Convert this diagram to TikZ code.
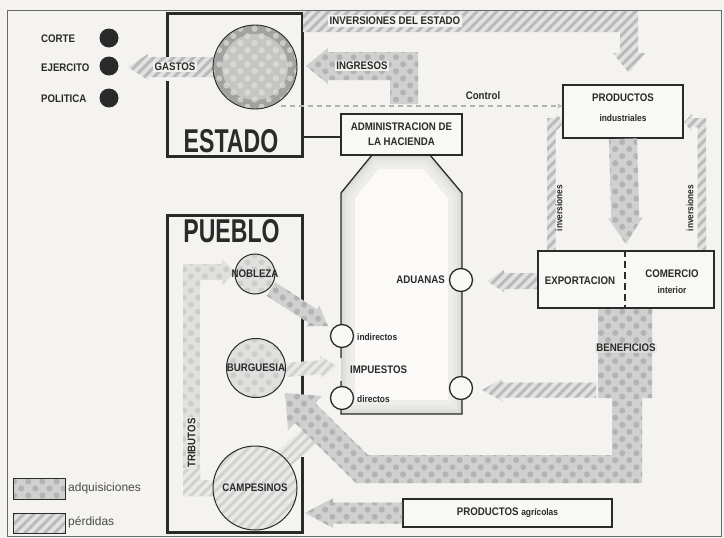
\documentclass[tikz,border=0pt]{standalone}
\usepackage{fontspec}
\setmainfont{Liberation Sans}
\newfontfamily\cond[FakeStretch=0.88]{Liberation Sans}
\newfontfamily\condx[FakeStretch=0.70]{Liberation Sans}
\usetikzlibrary{calc,patterns.meta,arrows.meta}
\definecolor{bg}{HTML}{F4F3EF}
\definecolor{ink}{HTML}{2A2A2A}
\definecolor{adqbase}{HTML}{D0D0D0}
\definecolor{adqdot}{HTML}{B3B3B3}
\definecolor{perbase}{HTML}{E2E2E2}
\definecolor{perline}{HTML}{BABABA}
\tikzset{
  adq/.style={preaction={fill=adqbase}, pattern={Dots[distance=10pt,radius=3pt,angle=45]}, pattern color=adqdot},
  adql/.style={preaction={fill=adqbase!55!bg}, pattern={Dots[distance=10pt,radius=3pt,angle=45]}, pattern color=adqdot!60!bg},
  per/.style={preaction={fill=perbase}, pattern={Lines[angle=45,distance=7pt,line width=3pt]}, pattern color=perline},
  perl/.style={preaction={fill=perbase!60!bg}, pattern={Lines[angle=45,distance=7pt,line width=3pt]}, pattern color=perline!60!bg},
  lbl/.style={font=\cond\bfseries\fontsize{11pt}{12pt}\selectfont, text=ink, inner sep=1pt},
  sml/.style={font=\cond\bfseries\fontsize{9.5pt}{11pt}\selectfont, text=ink, inner sep=1pt},
  big/.style={font=\condx\bfseries\fontsize{33pt}{36pt}\selectfont, text=ink, inner sep=0pt},
  leg/.style={font=\fontsize{12pt}{14pt}\selectfont, text=ink!85, inner sep=0pt},
  bigbox/.style={draw=ink, line width=3pt, line cap=rect},
  smallbox/.style={draw=ink, line width=1.6pt, fill=bg!60!white, inner sep=0pt},
  outl/.style={draw=ink, line width=1.3pt},
  valve/.style={circle, draw=ink, line width=1.3pt, fill=bg!60!white, minimum size=23pt, inner sep=0pt},
  popc/.style={circle, draw=ink, line width=1pt, inner sep=0pt},
  frame/.style={draw=ink!70, line width=0.8pt},
  ctrl/.style={draw=gray!60, line width=1.3pt, dash pattern=on 5pt off 4pt, -{Stealth[length=5pt,width=5pt]}},
  lblbg/.style={fill=bg!85!perbase, inner sep=1.5pt}
}
% #1 style, #2 start, #3 end, #4 half body, #5 half head, #6 head length
\newcommand\fatarrow[6]{%
  \coordinate (fah) at ($(#3)!#6!(#2)$);
  \path[#1] ($(#2)!#4!90:(#3)$) -- ($(fah)!#4!90:(#3)$) -- ($(fah)!#5!90:(#3)$) -- (#3)
     -- ($(fah)!#5!-90:(#3)$) -- ($(fah)!#4!-90:(#3)$) -- ($(#2)!#4!-90:(#3)$) -- cycle;}
\newcommand\fatband[4]{%
  \path[#1] ($(#2)!#4!90:(#3)$) -- ($(#3)!#4!-90:(#2)$) -- ($(#3)!#4!90:(#2)$) -- ($(#2)!#4!-90:(#3)$) -- cycle;}
\begin{document}
\begin{tikzpicture}[x=1pt,y=-1pt]
\useasboundingbox (0,0) rectangle (724,538);
\fill[bg] (0,0) rectangle (724,538);
\draw[frame] (7,10) rectangle (721,536);

% ---------- bottle (Hacienda) ----------
\coordinate (nl) at (372,155); \coordinate (nr) at (430,155);
\coordinate (sl) at (341,193); \coordinate (sr) at (462,193);
\coordinate (bl) at (341,414); \coordinate (br) at (462,414);
\coordinate (gap1) at (341,358); \coordinate (gap2) at (341,381);
\begin{scope}
  \clip (nl) -- (sl) -- (bl) -- (br) -- (sr) -- (nr) -- cycle;
  \fill[white!60!bg] (330,150) rectangle (470,420);
  \draw[line width=28pt, gray!5!bg, line join=round] (nl) -- (sl) -- (bl) -- (br) -- (sr) -- (nr) -- cycle;
  \draw[line width=18pt, gray!10!bg, line join=round] (nl) -- (sl) -- (bl) -- (br) -- (sr) -- (nr) -- cycle;
  \draw[line width=10pt, gray!16!bg, line join=round] (nl) -- (sl) -- (bl) -- (br) -- (sr) -- (nr) -- cycle;
  \draw[line width=4pt, gray!24!bg, line join=round] (nl) -- (sl) -- (bl) -- (br) -- (sr) -- (nr) -- cycle;
\end{scope}
\draw[outl] (gap1) -- (sl) -- (nl);
\draw[outl] (nr) -- (sr) -- (br) -- (bl) -- (gap2);

% ---------- big boxes ----------
\draw[bigbox] (167,55) -- (167,13) -- (302,13) -- (302,156) -- (167,156) -- (167,82);
\draw[bigbox] (302,393) -- (302,215) -- (167,215) -- (167,532) -- (302,532) -- (302,458);

% ---------- arrows ----------
% inversiones del estado
\path[per] (303,11) -- (638,11) -- (638,53) -- (645,53) -- (629,73) -- (613,53) -- (620,53) -- (620,32) -- (303,32) -- cycle;
% ingresos
\path[adq] (306,66) -- (328,48) -- (328,52) -- (418,52) -- (418,104) -- (390,104) -- (390,80) -- (328,80) -- (328,84) -- cycle;
% gastos
\coordinate (gS) at (215,67); \coordinate (gE) at (128,67);
\fatarrow{per}{gS}{gE}{10pt}{13pt}{20pt}
% inversiones small
\path[per] (547,251) -- (547,118) -- (556,118) -- (556,114) -- (564,122.5) -- (556,131) -- (556,127) -- (555.5,127) -- (555.5,251) -- cycle;
\path[per] (706,251) -- (706,118) -- (692,118) -- (692,114) -- (684,122.5) -- (692,131) -- (692,127) -- (697.5,127) -- (697.5,251) -- cycle;
% campesinos band (under big arrow)
\coordinate (cbS) at (282,460); \coordinate (cbE) at (320,427);
\fatband{perl}{cbS}{cbE}{10pt}
% beneficios flow
\path[adq] (598,309) -- (652,309) -- (652,398) -- (642,398) -- (642,483) -- (356,483) -- (295,423) -- (288,430) -- (285,393)
  -- (322,396) -- (315,403) -- (368,455) -- (612,455) -- (612,398) -- (598,398) -- cycle;
% hatched to lower valve
\coordinate (hS) at (596,390); \coordinate (hE) at (482,390);
\fatarrow{per}{hS}{hE}{7.5pt}{11pt}{20pt}
% exportacion -> aduanas
\coordinate (xS) at (538,281); \coordinate (xE) at (487,281);
\fatarrow{per}{xS}{xE}{8pt}{11pt}{17pt}
% nobleza -> indirectos
\coordinate (nS) at (271,289); \coordinate (nE) at (328,326);
\fatarrow{adq}{nS}{nE}{8pt}{12pt}{18pt}
% burguesia -> impuestos
\coordinate (bS) at (286,370); \coordinate (bE) at (337,366);
\fatarrow{perl}{bS}{bE}{7pt}{11pt}{16pt}
% tributos
\path[adql] (214,496) -- (183,496) -- (183,264) -- (222,264) -- (222,259) -- (235,272) -- (222,285) -- (222,280) -- (200,280) -- (200,480) -- (214,480) -- cycle;
\begin{scope}
  \clip (150,468) rectangle (230,500);
  \path[perl] (214,496) -- (183,496) -- (183,264) -- (200,264) -- (200,480) -- (214,480) -- cycle;
\end{scope}

% ---------- boxes ----------
\node[smallbox, minimum width=121pt, minimum height=41pt] (admin) at (401.5,134.5) {};
\node[smallbox, minimum width=120pt, minimum height=53pt] (prod) at (623,111.5) {};
\node[smallbox, minimum width=176pt, minimum height=57pt] (expo) at (626,279.5) {};
\node[smallbox, minimum width=209pt, minimum height=28pt] (agri) at (507.5,513) {};
\draw[ink, line width=1.3pt, dash pattern=on 7pt off 4pt] ([xshift=-1pt]expo.north) -- ([xshift=-1pt]expo.south);

% connector estado - admin
\coordinate (e1) at (302,137);
\draw[ink, line width=2.2pt] (e1) -- (e1 -| admin.west);
% control
\coordinate (ctl) at (281,106);
\draw[ctrl] (ctl) -- (ctl -| prod.west);

% arrows depending on boxes
\coordinate (pdE) at (626,244);
\fatarrow{adq}{prod.south}{pdE}{14pt}{17pt}{26pt}
\coordinate (aE) at (305,513);
\fatarrow{adq}{agri.west}{aE}{10.5pt}{15pt}{28pt}

% ---------- valves ----------
\node[valve] (ind) at (342,336) {};
\node[valve] (dir) at (342,398) {};
\node[valve] (adu) at (461,280) {};
\node[valve] (low) at (461,388) {};

% ---------- circles ----------
\node[circle, minimum size=84pt, inner sep=0pt] (tesoro) at (255,67) {};
\path[preaction={fill=gray!70!bg}, pattern={Dots[distance=10pt,radius=3pt,angle=45]}, pattern color=gray!35!bg] (tesoro.center) circle (42pt);
\path[preaction={fill=gray!40!bg}, pattern={Dots[distance=10pt,radius=3.2pt,angle=45]}, pattern color=gray!24!bg] (tesoro.center) circle (33pt);
\draw[ink, line width=0.9pt] (tesoro.center) circle (42pt);

\node[popc, adql, minimum size=40pt] (nob) at (255,274) {};
\node[popc, adql, minimum size=59pt] (bur) at (256,368) {};
\node[popc, perl, minimum size=84pt] (cam) at (255,488) {};

\node[circle, fill=ink, minimum size=19pt, inner sep=0pt] (d1) at (109,38) {};
\node[circle, fill=ink, minimum size=19pt, inner sep=0pt] (d2) at (109,66) {};
\node[circle, fill=ink, minimum size=19pt, inner sep=0pt] (d3) at (109,98) {};

% ---------- legend ----------
\node[draw=ink, line width=1pt, adq, minimum width=52pt, minimum height=21pt, inner sep=0pt] (lg1) at (39,488.5) {};
\node[draw=ink, line width=1pt, per, minimum width=52pt, minimum height=20pt, inner sep=0pt] (lg2) at (39,523) {};
\node[leg, anchor=west] (lt1) at (68,488) {adquisiciones};
\node[leg, anchor=west] (lt2) at (68,522) {pérdidas};

% ---------- texts ----------
\node[lbl, anchor=west] (corte) at (40,39) {CORTE};
\node[lbl, anchor=west] (ejer) at (40,68) {EJERCITO};
\node[lbl, anchor=west] (poli) at (40,99) {POLITICA};
\node[big] (estado) at (231,141.5) {ESTADO};
\node[big] (pueblo) at (231.5,231.5) {PUEBLO};
\node[lbl, lblbg] (gastos) at (175,67) {GASTOS};
\node[lbl, lblbg] (ingr) at (362,66) {INGRESOS};
\node[lbl, fill=bg, inner sep=2pt] (inv) at (395,21) {INVERSIONES DEL ESTADO};
\node[lbl] (control) at (483,96) {Control};
\node[lbl, align=center, font=\cond\bfseries\fontsize{11pt}{15pt}\selectfont] (admint) at (admin) {ADMINISTRACION DE\\LA HACIENDA};
\node[lbl] (prodt) at (623,98) {PRODUCTOS};
\node[sml] (indu) at (623,118) {industriales};
\node[sml, rotate=90] (inv1) at (559,208) {inversiones};
\node[sml, rotate=90] (inv2) at (690,208) {inversiones};
\node[lbl] (expt) at (580,281) {EXPORTACION};
\node[lbl] (comt) at (672,274) {COMERCIO};
\node[sml] (intt) at (672,290) {interior};
\node[lbl, anchor=east] (adut) at (446,280) {ADUANAS};
\node[sml, anchor=west] (indt) at (356,337) {indirectos};
\node[lbl, anchor=west] (impt) at (349,370) {IMPUESTOS};
\node[sml, anchor=west] (dirt) at (356,399) {directos};
\node[lbl, fill=adqbase!50!bg, fill opacity=0.7, text opacity=1] (bent) at (626,348) {BENEFICIOS};
\node[lbl] (nobt) at (nob) {NOBLEZA};
\node[lbl] (burt) at (bur) {BURGUESIA};
\node[lbl] (camt) at (cam) {CAMPESINOS};
\node[lbl, rotate=90, fill=bg!70!adqbase, inner sep=1.5pt] (trib) at (191.5,443) {TRIBUTOS};
\node[lbl] (agrt) at (agri) {PRODUCTOS {\fontsize{9.5pt}{11pt}\selectfont agrícolas}};
\end{tikzpicture}
\end{document}
